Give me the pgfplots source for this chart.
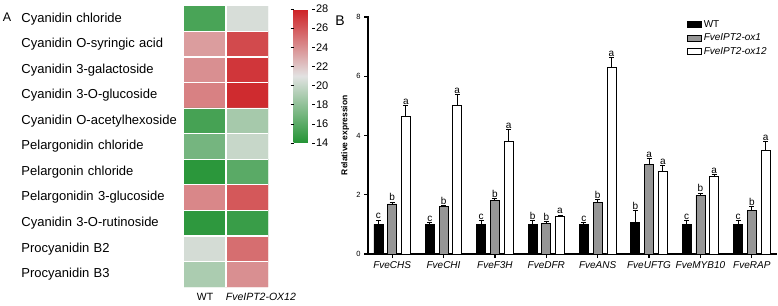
\documentclass[border=0pt]{standalone}
\usepackage{fontspec}
\setmainfont{Liberation Sans}
\usepackage{pgfplots}
\usepackage{pgfplotstable}
\pgfplotsset{compat=1.18}

\pgfplotstableread{
x y c
0 0 15.4
1 0 20.6
0 1 23.5
1 1 26.5
0 2 24.0
1 2 27.2
0 3 24.5
1 3 27.6
0 4 15.3
1 4 18.8
0 5 17.0
1 5 20.0
0 6 14.3
1 6 16.0
0 7 24.3
1 7 26.0
0 8 14.4
1 8 14.8
0 9 20.5
1 9 25.2
0 10 19.0
1 10 24.0
}\heatdata

\pgfplotstableread{
x wt wte wtl ox1 ox1e ox1l ox12 ox12e ox12l
0 1.00 0.14 c 1.69 0.06 b 4.63 0.38 a
1 1.00 0.05 c 1.60 0.04 b 5.01 0.38 a
2 1.00 0.12 c 1.80 0.07 b 3.81 0.38 a
3 1.00 0.13 b 1.03 0.07 b 1.28 0.03 a
4 1.00 0.06 c 1.75 0.08 b 6.30 0.33 a
5 1.05 0.42 b 3.03 0.20 a 2.78 0.20 a
6 1.00 0.12 c 1.98 0.07 b 2.61 0.06 a
7 1.00 0.12 c 1.48 0.12 b 3.48 0.31 a
}\bardata

\begin{document}
\begin{tikzpicture}[x=1pt,y=1pt]
\useasboundingbox (0,0) rectangle (778,305);
\node[font=\fontsize{12.5}{13}\selectfont] at (7,287.5) {A};
\node[font=\fontsize{14}{15}\selectfont] at (340,284.5) {B};

% ---------- heatmap ----------
\begin{axis}[
  at={(184pt,18pt)}, anchor=south west, scale only axis,
  width=84pt, height=281pt,
  xmin=-0.5, xmax=1.5, ymin=-0.5, ymax=10.5, y dir=reverse,
  colormap={gwr}{rgb255=(35,148,52) rgb255=(226,226,226) rgb255=(206,32,36)},
  point meta min=14, point meta max=28,
  axis line style={draw=none},
  major tick length=0pt, minor tick length=0pt,
  xtick={0,1.33},
  xticklabels={WT,\textit{FveIPT2-OX12}},
  xticklabel style={font=\fontsize{10.5}{12}\selectfont, yshift=-3pt},
  ytick={0,...,10},
  yticklabels={Cyanidin chloride,Cyanidin O-syringic acid,Cyanidin 3-galactoside,Cyanidin 3-O-glucoside,Cyanidin O-acetylhexoside,Pelargonidin chloride,Pelargonin chloride,Pelargonidin 3-glucoside,Cyanidin 3-O-rutinoside,Procyanidin B2,Procyanidin B3},
  yticklabel style={font=\fontsize{13}{15}\selectfont, text width=159pt, align=left},
  minor xtick={0.5}, minor ytick={0.5,1.5,...,9.5},
  xminorgrids, yminorgrids,
  minor grid style={white, line width=1.2pt},
  axis on top,
  colorbar,
  colorbar style={
    at={(parent axis.north east)}, anchor=north west,
    xshift=17pt, yshift=-3pt,
    scale only axis, width=18pt, height=134pt,
    ytick={14,16,...,28},
    axis line style={draw=none},
    tick align=outside, major tick length=3pt,
    tick style={black, line width=0.6pt},
    yticklabel style={font=\fontsize{11}{12}\selectfont, xshift=-2pt},
    /pgf/number format/assume math mode=true,
  },
]
\addplot[matrix plot*, mesh/cols=2, point meta=explicit] table[x=x, y=y, meta=c] {\heatdata};
\end{axis}

% ---------- bar chart ----------
\begin{axis}[
  at={(368pt,51pt)}, anchor=south west, scale only axis,
  width=409pt, height=237.6pt,
  xmin=-0.47, xmax=7.49, ymin=0, ymax=8.02,
  axis x line*=bottom, axis y line*=left,
  axis line style={line width=1.6pt},
  ytick={0,2,4,6},
  yticklabels={0,2,4,6},
  extra y ticks={8},
  extra y tick labels={8},
  extra y tick style={tick style={black, line width=1.2pt}, yticklabel style={font=\fontsize{7.5}{9}\selectfont, text=black}},
  xtick={0,...,7},
  xticklabels={FveCHS,FveCHI,FveF3H,FveDFR,FveANS,FveUFTG,FveMYB10,FveRAP},
  xticklabel style={font=\itshape\fontsize{10}{12}\selectfont},
  yticklabel style={font=\fontsize{7.5}{9}\selectfont},
  tick align=outside, major tick length=4pt,
  tick style={black, line width=1.2pt},
  ylabel={Relative expression},
  ylabel style={font=\bfseries\fontsize{8.5}{10}\selectfont, at={(axis description cs:-0.056,0.5)}, anchor=center},
  legend style={at={(0.772,1.0)}, anchor=north west, draw=none, fill=none,
    font=\fontsize{10}{12}\selectfont, row sep=1pt},
  legend cell align=left,
  legend image code/.code={\draw[#1, line width=0.8pt] (0pt,-3pt) rectangle (14pt,3pt);},
  error bars/error bar style={line width=1pt, black},
  error bars/error mark options={rotate=90, mark size=2.5pt, line width=1pt, black},
  every node near coord/.append style={font=\fontsize{10}{11}\selectfont, anchor=south, inner sep=1pt},
]
\addplot[ybar, bar width=9pt, bar shift=0pt, fill=black, draw=black, line width=0.8pt,
  error bars/.cd, y dir=plus, y explicit]
  table[x expr=\thisrow{x}-0.267, y=wt, y error=wte] {\bardata};
\addplot[ybar, bar width=9pt, bar shift=0pt, fill={rgb,255:red,150;green,150;blue,150}, draw=black, line width=0.8pt,
  error bars/.cd, y dir=plus, y explicit]
  table[x=x, y=ox1, y error=ox1e] {\bardata};
\addplot[ybar, bar width=9pt, bar shift=0pt, fill=white, draw=black, line width=0.8pt,
  error bars/.cd, y dir=plus, y explicit]
  table[x expr=\thisrow{x}+0.267, y=ox12, y error=ox12e] {\bardata};
\legend{WT,\textit{FveIPT2-ox1},\textit{FveIPT2-ox12}}

\addplot[draw=none, mark=none, forget plot, nodes near coords, point meta=explicit symbolic]
  table[x expr=\thisrow{x}-0.267, y expr=\thisrow{wt}+\thisrow{wte}, meta=wtl] {\bardata};
\addplot[draw=none, mark=none, forget plot, nodes near coords, point meta=explicit symbolic]
  table[x expr=\thisrow{x}, y expr=\thisrow{ox1}+\thisrow{ox1e}, meta=ox1l] {\bardata};
\addplot[draw=none, mark=none, forget plot, nodes near coords, point meta=explicit symbolic]
  table[x expr=\thisrow{x}+0.267, y expr=\thisrow{ox12}+\thisrow{ox12e}, meta=ox12l] {\bardata};
\end{axis}
\end{tikzpicture}
\end{document}
